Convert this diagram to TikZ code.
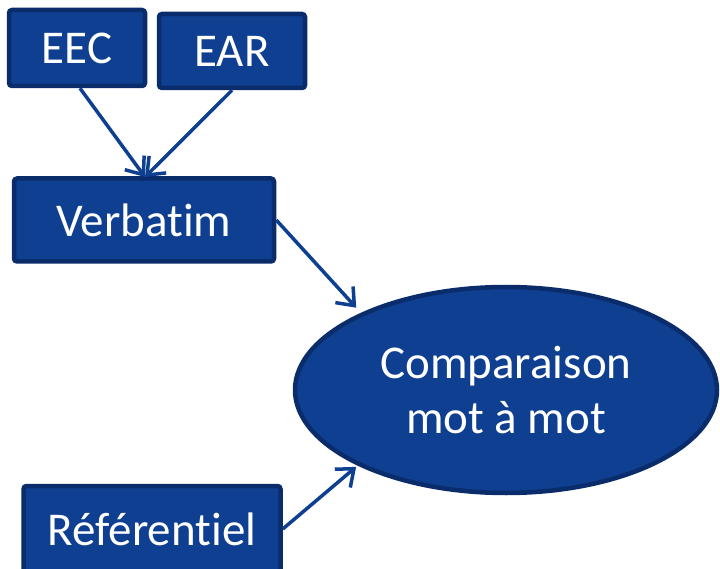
\documentclass[tikz,border=0pt]{standalone}
\usepackage{fontspec}
\setmainfont[RawFeature={-liga;-clig;-calt;-dlig}]{Carlito}
\usetikzlibrary{arrows.meta,shapes.geometric}
\definecolor{boxfill}{HTML}{0F3F91}
\definecolor{boxline}{HTML}{0A2C6B}
\begin{document}
\begin{tikzpicture}[x=1pt, y=-1pt,
    every node/.style={font=\fontsize{47}{55}\selectfont, text=white},
    box/.style={draw=boxline, fill=boxfill, line width=4.5pt, rounded corners=3pt, inner sep=0pt},
    fleche/.style={-{Straight Barb[length=15pt, width=24pt, line width=3.5pt]}, draw=boxfill, line width=3.5pt}]
    % cadre
    \useasboundingbox (0,0) rectangle (720,569);

    % sources
    \node[box, minimum width=136pt, minimum height=76pt] (eec) at (77,48) {EEC};
    \node[box, minimum width=146pt, minimum height=74pt] (ear) at (232,51) {EAR};
    \node[box, minimum width=260pt, minimum height=83pt] (verbatim) at (144,220) {Verbatim};
    \node[box, minimum width=257pt, minimum height=86pt] (ref) at (152,529) {Référentiel};

    % comparaison
    \node[ellipse, draw=boxline, fill=boxfill, line width=4.5pt, minimum width=422pt, minimum height=206pt,
          align=center, inner sep=0pt] (comp) at (506,390) {Comparaison\\mot à mot};

    % fleches
    \coordinate (join) at (145,177);
    \draw[fleche] (eec.south) ++(3,0) -- (join);
    \draw[fleche] (ear.south) -- (join);
    \draw[fleche, shorten >=7pt] (verbatim.east) -- (comp.152);
    \draw[fleche, shorten >=2pt] (ref.east) -- (comp.207);
\end{tikzpicture}
\end{document}
